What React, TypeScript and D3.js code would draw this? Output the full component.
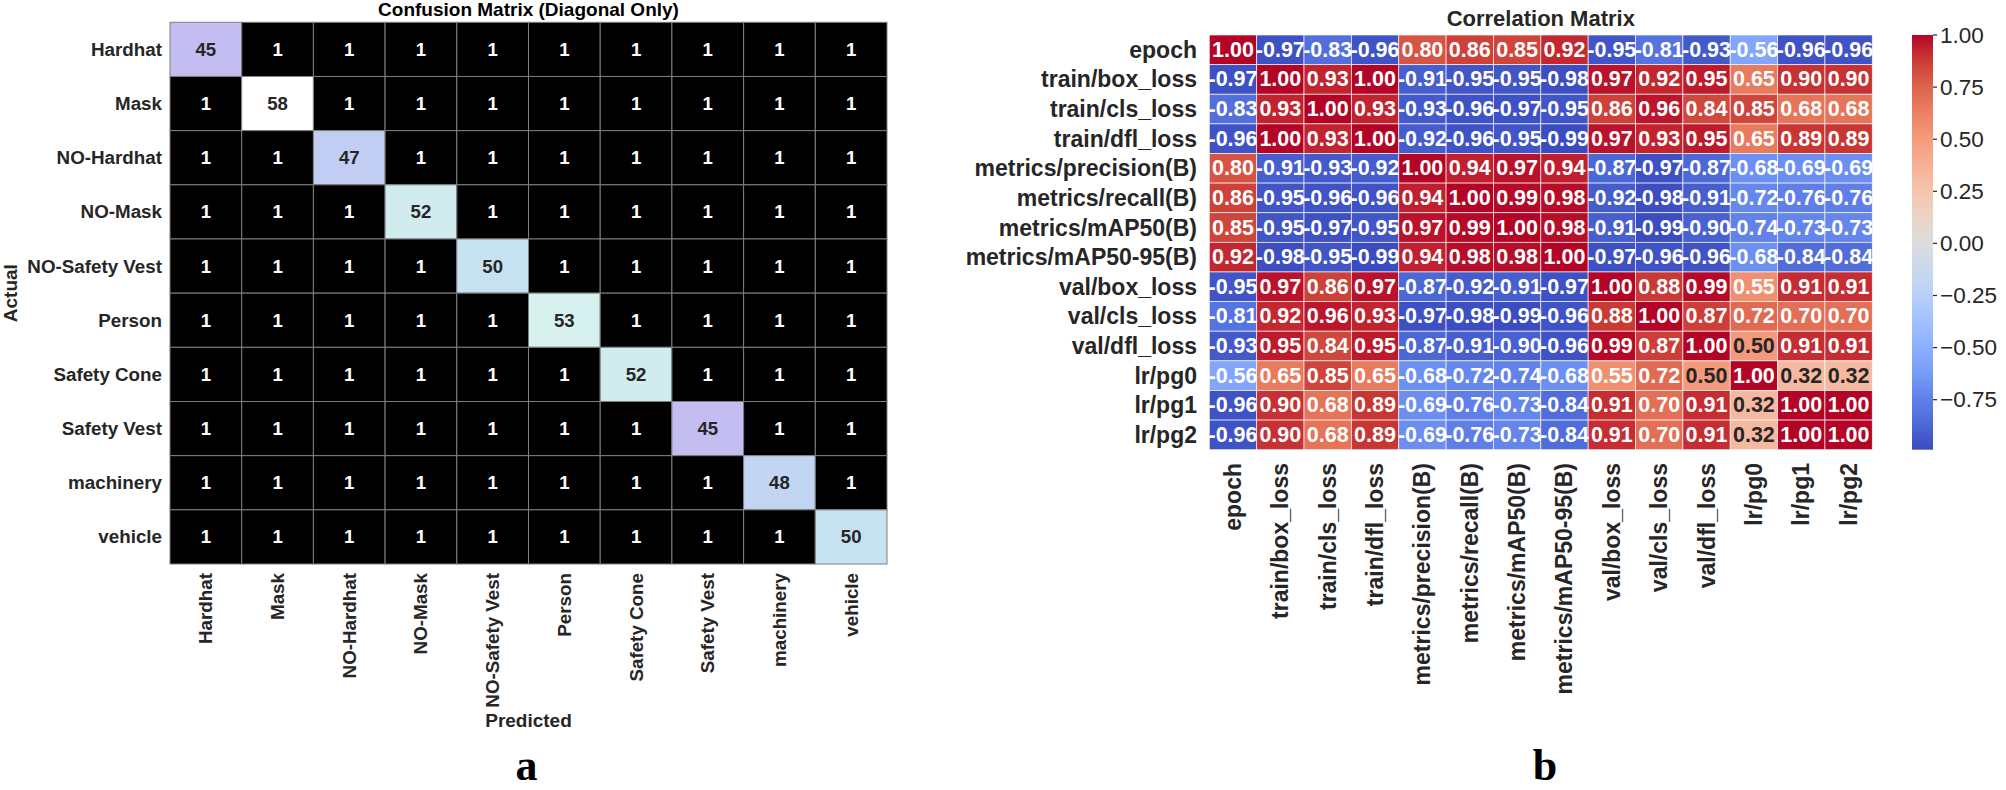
import React from "react";
import * as d3 from "d3";

// ---- confusion matrix data ----
const cmClasses = [
  "Hardhat", "Mask", "NO-Hardhat", "NO-Mask", "NO-Safety Vest",
  "Person", "Safety Cone", "Safety Vest", "machinery", "vehicle",
];
const cmDiagonal = [45, 58, 47, 52, 50, 53, 52, 45, 48, 50];
const cmOffDiagonal = 1;

// ---- correlation matrix data ----
const corrLabels = [
  "epoch", "train/box_loss", "train/cls_loss", "train/dfl_loss",
  "metrics/precision(B)", "metrics/recall(B)", "metrics/mAP50(B)", "metrics/mAP50-95(B)",
  "val/box_loss", "val/cls_loss", "val/dfl_loss", "lr/pg0", "lr/pg1", "lr/pg2",
];
const corrValues = [
  [1.00, -0.97, -0.83, -0.96, 0.80, 0.86, 0.85, 0.92, -0.95, -0.81, -0.93, -0.56, -0.96, -0.96],
  [-0.97, 1.00, 0.93, 1.00, -0.91, -0.95, -0.95, -0.98, 0.97, 0.92, 0.95, 0.65, 0.90, 0.90],
  [-0.83, 0.93, 1.00, 0.93, -0.93, -0.96, -0.97, -0.95, 0.86, 0.96, 0.84, 0.85, 0.68, 0.68],
  [-0.96, 1.00, 0.93, 1.00, -0.92, -0.96, -0.95, -0.99, 0.97, 0.93, 0.95, 0.65, 0.89, 0.89],
  [0.80, -0.91, -0.93, -0.92, 1.00, 0.94, 0.97, 0.94, -0.87, -0.97, -0.87, -0.68, -0.69, -0.69],
  [0.86, -0.95, -0.96, -0.96, 0.94, 1.00, 0.99, 0.98, -0.92, -0.98, -0.91, -0.72, -0.76, -0.76],
  [0.85, -0.95, -0.97, -0.95, 0.97, 0.99, 1.00, 0.98, -0.91, -0.99, -0.90, -0.74, -0.73, -0.73],
  [0.92, -0.98, -0.95, -0.99, 0.94, 0.98, 0.98, 1.00, -0.97, -0.96, -0.96, -0.68, -0.84, -0.84],
  [-0.95, 0.97, 0.86, 0.97, -0.87, -0.92, -0.91, -0.97, 1.00, 0.88, 0.99, 0.55, 0.91, 0.91],
  [-0.81, 0.92, 0.96, 0.93, -0.97, -0.98, -0.99, -0.96, 0.88, 1.00, 0.87, 0.72, 0.70, 0.70],
  [-0.93, 0.95, 0.84, 0.95, -0.87, -0.91, -0.90, -0.96, 0.99, 0.87, 1.00, 0.50, 0.91, 0.91],
  [-0.56, 0.65, 0.85, 0.65, -0.68, -0.72, -0.74, -0.68, 0.55, 0.72, 0.50, 1.00, 0.32, 0.32],
  [-0.96, 0.90, 0.68, 0.89, -0.69, -0.76, -0.73, -0.84, 0.91, 0.70, 0.91, 0.32, 1.00, 1.00],
  [-0.96, 0.90, 0.68, 0.89, -0.69, -0.76, -0.73, -0.84, 0.91, 0.70, 0.91, 0.32, 1.00, 1.00],
];
const cbarTicks = [1.0, 0.75, 0.5, 0.25, 0.0, -0.25, -0.5, -0.75];

// matplotlib "coolwarm" sampled at even steps
const coolwarmStops = [
  "#3b4cc0", "#4d68d7", "#6282ea", "#779ef8", "#8db0fe", "#a2c1ff", "#b8d0f9", "#cbd9ec",
  "#dddddd", "#ecd3c5", "#f5c4ad", "#f7af94", "#f49a7b", "#eb8062", "#dd644d", "#cb3c36", "#b40426",
];

const SANS = "'Liberation Sans', Arial, sans-serif";
const SERIF = "'Liberation Serif', 'Times New Roman', serif";

// seaborn picks dark or white annotation text from the cell's luminance
function luminance(c: string) {
  const rgb = d3.rgb(c);
  const f = (v: number) => {
    v /= 255;
    return v <= 0.03928 ? v / 12.92 : Math.pow((v + 0.055) / 1.055, 2.4);
  };
  return 0.2126 * f(rgb.r) + 0.7152 * f(rgb.g) + 0.0722 * f(rgb.b);
}
const textOn = (c: string) => (luminance(c) > 0.408 ? "#262626" : "#ffffff");

const coolwarm = d3
  .scaleLinear<string>()
  .domain(coolwarmStops.map((_, i) => i / (coolwarmStops.length - 1)))
  .range(coolwarmStops)
  .interpolate(d3.interpolateRgb);

const ConfusionPanel: React.FC = () => {
  const x = d3.scaleBand().domain(cmClasses).range([170, 887]);
  const y = d3.scaleBand().domain(cmClasses).range([22.3, 564]);
  const values = cmClasses.map((_, r) => cmClasses.map((_, c) => (r === c ? cmDiagonal[r] : cmOffDiagonal)));
  const color = d3
    .scaleSequential(d3.interpolateCubehelixDefault)
    .domain([d3.min(values.flat())!, d3.max(values.flat())!]);
  const midX = (x.range()[0] + x.range()[1]) / 2;
  const midY = (y.range()[0] + y.range()[1]) / 2;

  return (
    <g fontFamily={SANS} fontWeight="bold">
      <text x={midX} y={16} textAnchor="middle" fontSize={19}>Confusion Matrix (Diagonal Only)</text>
      {values.map((row, r) =>
        row.map((v, c) => {
          const fill = color(v);
          return (
            <g key={`${r}-${c}`}>
              <rect x={x(cmClasses[c])} y={y(cmClasses[r])} width={x.bandwidth()} height={y.bandwidth()}
                fill={fill} stroke="#7f7f7f" strokeWidth={1} />
              <text x={x(cmClasses[c])! + x.bandwidth() / 2} y={y(cmClasses[r])! + y.bandwidth() / 2}
                textAnchor="middle" dominantBaseline="central" fontSize={18.6} fill={textOn(fill)}>
                {v}
              </text>
            </g>
          );
        })
      )}
      {cmClasses.map(d => (
        <text key={`r-${d}`} x={162} y={y(d)! + y.bandwidth() / 2} textAnchor="end"
          dominantBaseline="central" fontSize={18.8} fill="#262626">{d}</text>
      ))}
      {cmClasses.map(d => (
        <text key={`c-${d}`} transform={`translate(${x(d)! + x.bandwidth() / 2},573) rotate(-90)`}
          textAnchor="end" dominantBaseline="central" fontSize={18.8} fill="#262626">{d}</text>
      ))}
      <text x={midX} y={727} textAnchor="middle" fontSize={19} fill="#262626">Predicted</text>
      <text transform={`translate(10,${midY}) rotate(-90)`} textAnchor="middle"
        dominantBaseline="central" fontSize={19} fill="#262626">Actual</text>
      <text x={midX - 2} y={780} textAnchor="middle" fontFamily={SERIF} fontSize={44}>a</text>
    </g>
  );
};

const CorrelationPanel: React.FC = () => {
  const x = d3.scaleBand().domain(corrLabels).range([1209.3, 1872.3]);
  const y = d3.scaleBand().domain(corrLabels).range([35, 449.7]);
  const flat = corrValues.flat();
  const vmin = d3.min(flat)!;
  const vmax = d3.max(flat)!;
  const color = (v: number) => coolwarm((v - vmin) / (vmax - vmin));
  const cbar = d3.scaleLinear().domain([vmin, vmax]).range([449.7, 35]);
  const midX = (x.range()[0] + x.range()[1]) / 2;
  const gradStops = d3.range(0, 1.0001, 1 / 32);

  return (
    <g fontFamily={SANS}>
      <defs>
        <linearGradient id="cbarGrad" x1="0" y1="1" x2="0" y2="0">
          {gradStops.map(t => (
            <stop key={t} offset={t} stopColor={coolwarm(t)} />
          ))}
        </linearGradient>
      </defs>
      <text x={midX} y={26} textAnchor="middle" fontSize={22} fontWeight="bold" fill="#262626">Correlation Matrix</text>
      {corrValues.map((row, r) =>
        row.map((v, c) => (
          <rect key={`${r}-${c}`} x={x(corrLabels[c])} y={y(corrLabels[r])} width={x.bandwidth()} height={y.bandwidth()}
            fill={color(v)} stroke="#ffffff" strokeWidth={0.8} strokeOpacity={0.8} />
        ))
      )}
      {corrValues.map((row, r) =>
        row.map((v, c) => (
          <text key={`t-${r}-${c}`} x={x(corrLabels[c])! + x.bandwidth() / 2} y={y(corrLabels[r])! + y.bandwidth() / 2}
            textAnchor="middle" dominantBaseline="central" fontSize={21.5} fontWeight="bold" fill={textOn(color(v))}>
            {v.toFixed(2)}
          </text>
        ))
      )}
      {corrLabels.map(d => (
        <text key={`r-${d}`} x={1197} y={y(d)! + y.bandwidth() / 2} textAnchor="end"
          dominantBaseline="central" fontSize={23} fontWeight="bold" fill="#262626">{d}</text>
      ))}
      {corrLabels.map(d => (
        <text key={`c-${d}`} transform={`translate(${x(d)! + x.bandwidth() / 2},463) rotate(-90)`}
          textAnchor="end" dominantBaseline="central" fontSize={23} fontWeight="bold" fill="#262626">{d}</text>
      ))}
      <rect x={1912} y={35} width={21} height={414.7} fill="url(#cbarGrad)" />
      {cbarTicks.map(t => (
        <g key={`cb-${t}`}>
          <line x1={1933} x2={1937} y1={cbar(t)} y2={cbar(t)} stroke="#262626" strokeWidth={1.2} />
          <text x={1940} y={cbar(t)} dominantBaseline="central" fontSize={22.5} fill="#262626">
            {t < 0 ? `\u2212${Math.abs(t).toFixed(2)}` : t.toFixed(2)}
          </text>
        </g>
      ))}
      <text x={1545} y={780} textAnchor="middle" fontFamily={SERIF} fontWeight="bold" fontSize={44}>b</text>
    </g>
  );
};

export default function App() {
  return (
    <svg width={2006} height={790} viewBox="0 0 2006 790"
      style={{ position: "absolute", left: 0, top: 0, background: "#ffffff" }}>
      <rect width={2006} height={790} fill="#ffffff" />
      <ConfusionPanel />
      <CorrelationPanel />
    </svg>
  );
}
